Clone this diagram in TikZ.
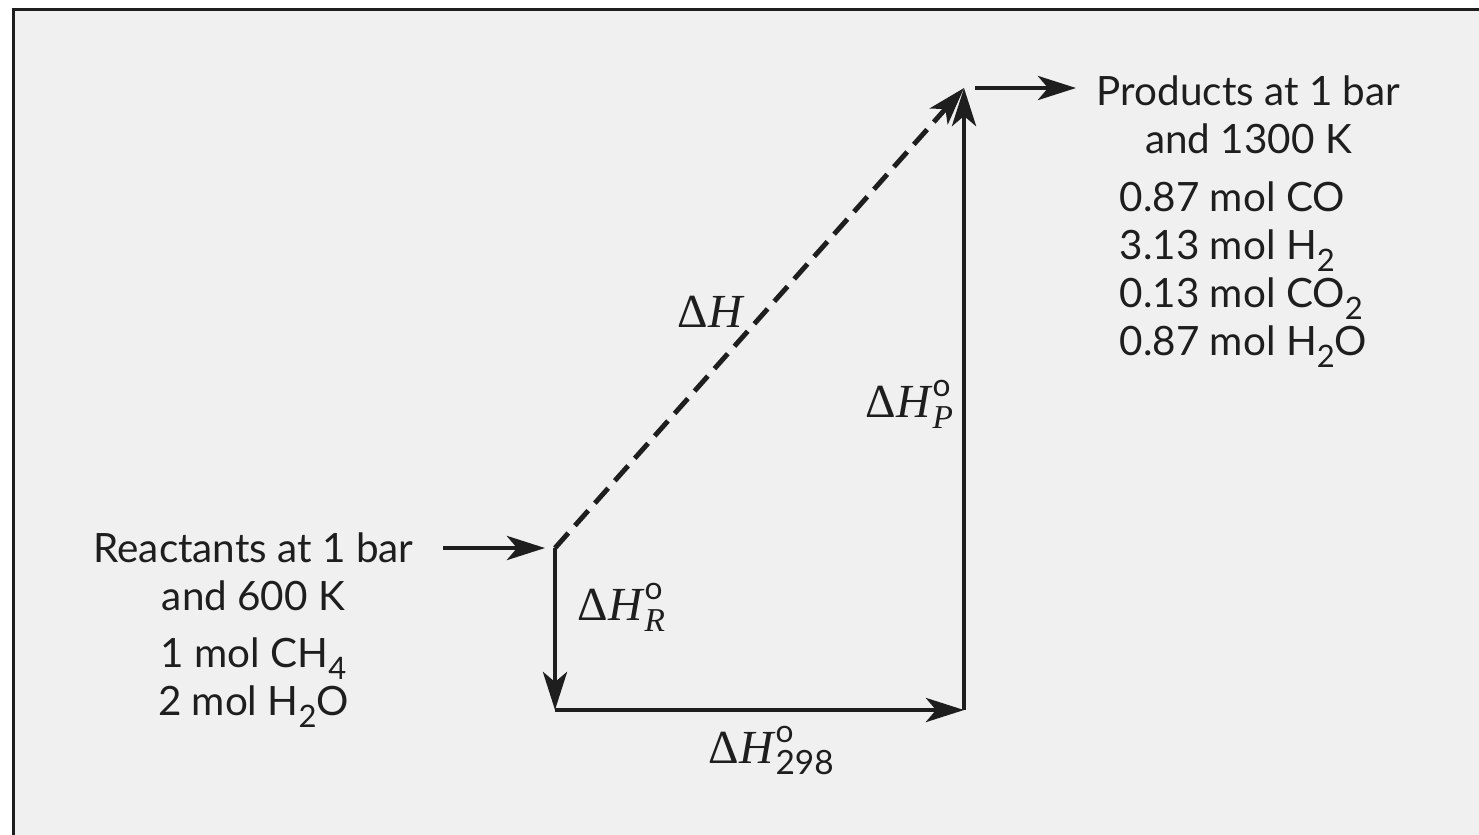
\documentclass[tikz,border=0pt]{standalone}
\usepackage{fontspec}
\setmainfont{Lato}
\newfontfamily\lbserif{Liberation Serif}
\usetikzlibrary{arrows.meta, positioning}
\definecolor{pagegray}{RGB}{240,240,240}
\definecolor{inkblack}{RGB}{30,30,30}

\newcommand{\chsub}[1]{\raisebox{-0.3em}{\fontsize{8.8}{8.8}\selectfont #1}}
\newcommand{\dHsym}{{\lbserif Δ\textit{H}}}
\newcommand{\dHstd}[1]{\dHsym\rlap{\raisebox{5.8pt}{\fontsize{9}{9}\selectfont o}}\raisebox{-3.4pt}{\fontsize{9.5}{9.5}\selectfont #1}}

\tikzset{
  flow/.style={draw=inkblack, line width=1.4pt, -{Stealth[length=3.8mm,width=2.4mm,inset=1mm]}},
  txt/.style={text=inkblack, font=\fontsize{11.5}{13.6}\selectfont, inner sep=0pt},
  dhlbl/.style={text=inkblack, font=\fontsize{13.5}{14}\selectfont, inner sep=0pt, anchor=base west}
}

\begin{document}
\begin{tikzpicture}
\useasboundingbox (0,0) rectangle (14.79,-8.34);
\clip (0,0) rectangle (14.79,-8.34);
\fill[white] (0,0) rectangle (14.79,-8.34);
\draw[inkblack, line width=0.03cm, fill=pagegray] (0.13,-0.09) rectangle (15.5,-9);

% corners of the cycle
\coordinate (react) at (5.55,-5.48);
\coordinate (low)   at (5.55,-7.10);
\coordinate (high)  at (9.64,-7.10);
\coordinate (prod)  at (9.64,-0.88);
\coordinate (rin)   at (4.43,-5.48);
\coordinate (pout)  at (10.76,-0.88);

% text blocks (base = last line)
\node[txt, anchor=base, align=center] (reactlbl) at (2.535,-6.10) {Reactants at 1 bar\\and 600 K};
\node[txt, anchor=base, align=center] (reactmol) at (2.535,-7.15) {1 mol CH\chsub{4}\\2 mol H\chsub{2}O};
\node[txt, anchor=base, align=center] (prodlbl) at (12.485,-1.53) {Products at 1 bar\\and 1300 K};
\node[txt, anchor=base west, align=left] (prodmol) at (11.19,-3.55)
  {0.87 mol CO\\3.13 mol H\chsub{2}\\0.13 mol CO\chsub{2}\\0.87 mol H\chsub{2}O};

% arrows
\draw[flow] (rin) -- ([xshift=-0.1cm]react);
\draw[flow] ([xshift=0.11cm]prod) -- (pout);
\draw[flow] (react) -- (low);
\draw[flow] (low) -- (high);
\draw[flow] (high) -- (prod);
\draw[flow, dash pattern=on 0.2cm off 0.1cm] (react) -- (prod);

% labels
\node[dhlbl] (dH)    at (6.77,-3.27) {\dHsym};
\node[dhlbl] (dHR)   at (5.77,-6.20) {\dHstd{\itshape\lbserif R}};
\node[dhlbl] (dHP)   at (8.65,-4.17) {\dHstd{\itshape\lbserif P}};
\node[dhlbl] (dH298) at (7.08,-7.63) {\dHstd{298}};
\end{tikzpicture}
\end{document}
